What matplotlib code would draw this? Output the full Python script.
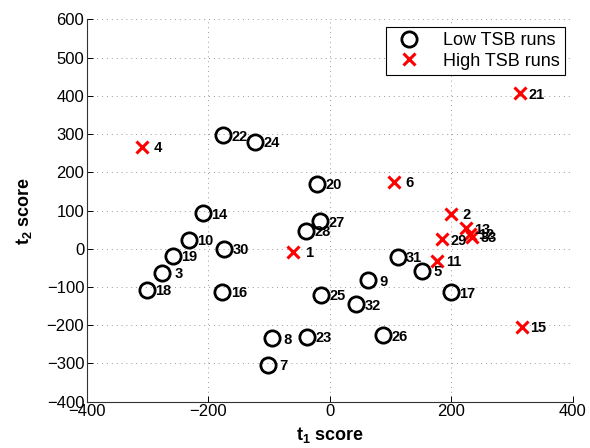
import matplotlib.pyplot as plt

plt.rcParams['font.family'] = ['Liberation Sans', 'DejaVu Sans']
plt.rcParams['mathtext.fontset'] = 'custom'
plt.rcParams['mathtext.rm'] = 'Liberation Sans'
plt.rcParams['mathtext.bf'] = 'Liberation Sans:bold'

# low TSB runs (circles)
low_ids = [3, 5, 7, 8, 9, 10, 14, 16, 17, 18, 19, 20, 22, 23, 24, 25, 26, 27, 28, 30, 31, 32]
low_t1 = [-276, 152, -102, -96, 62, -232, -209, -177, 199, -302, -258, -21, -176, -38, -123, -14, 88, -16, -39, -174, 112, 43]
low_t2 = [-62, -57, -304, -234, -82, 23, 93, -112, -114, -108, -18, 170, 297, -230, 280, -121, -226, 72, 47, 0, -21, -145]

# high TSB runs (crosses)
high_ids = [1, 2, 4, 6, 11, 12, 13, 15, 21, 29, 33]
high_t1 = [-60, 199, -310, 105, 177, 230, 224, 316, 313, 185, 234]
high_t2 = [-8, 91, 267, 175, -31, 39, 54, -204, 407, 25, 32]

fig = plt.figure(figsize=(5.9, 4.48), dpi=100)
ax = fig.add_axes([0.1475, 0.1033, 0.8232, 0.8532])

ax.plot(low_t1, low_t2, 'o', mfc='none', mec='black', ms=11, mew=2.0, label='Low TSB runs')
ax.plot(high_t1, high_t2, 'x', color='red', ms=8, mew=2.2, label='High TSB runs')

for i, x, y in zip(low_ids + high_ids, low_t1 + high_t1, low_t2 + high_t2):
    ax.annotate('%2d' % i, (x, y), xytext=(6, -1), textcoords='offset points',
                va='center', ha='left', fontsize=10.5, fontweight='bold')

ax.set_xlim(-400, 400)
ax.set_ylim(-400, 600)
ax.set_xticks(range(-400, 401, 200))
ax.set_yticks(range(-400, 601, 100))
ax.grid(True, linestyle=(0, (1, 4)), color='#999999', linewidth=0.7)
ax.spines['top'].set_visible(False)
ax.spines['right'].set_visible(False)
ax.tick_params(direction='in', length=4, labelsize=12, width=0.7, pad=2)
for s in ['left', 'bottom']:
    ax.spines[s].set_linewidth(0.8)
    ax.spines[s].set_color('#333333')

ax.set_xlabel(r'$\mathbf{t_1}$ score', fontsize=13, fontweight='bold', labelpad=4)
ax.set_ylabel(r'$\mathbf{t_2}$ score', fontsize=13, fontweight='bold', labelpad=9)

leg = ax.legend(loc='upper right', fontsize=13, fancybox=False, framealpha=1,
                edgecolor='black', borderaxespad=0.4, handletextpad=0.9,
                borderpad=0.3, labelspacing=0.2)
leg.get_frame().set_linewidth(0.8)

fig.savefig('out.png', dpi=100)
